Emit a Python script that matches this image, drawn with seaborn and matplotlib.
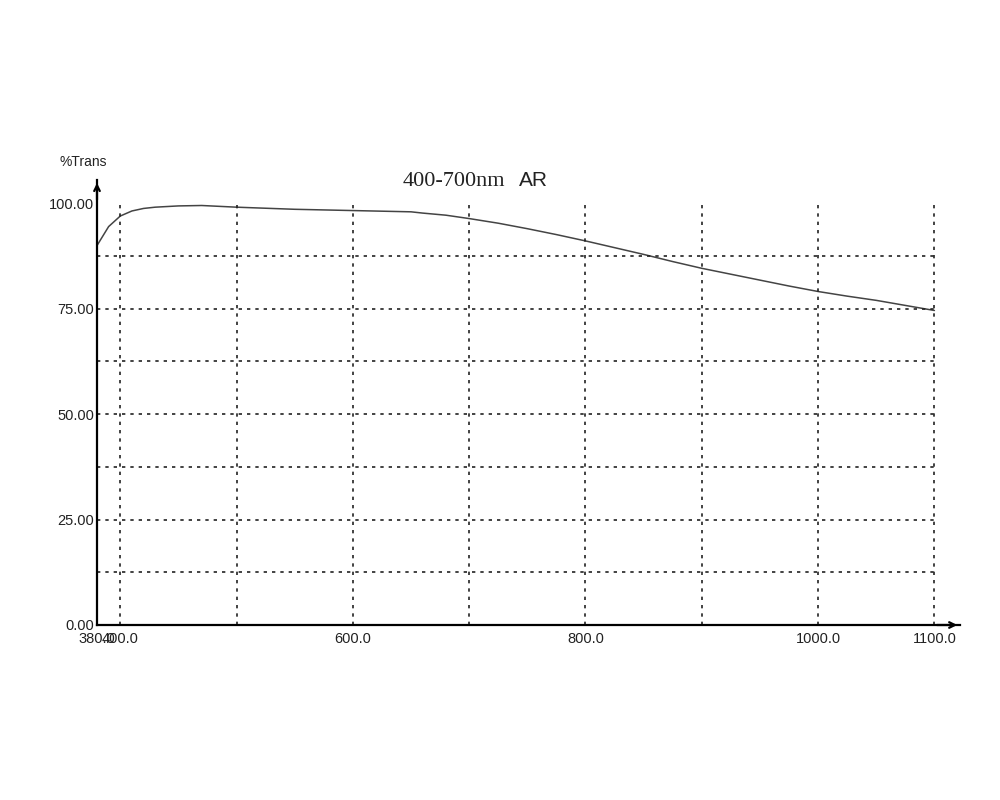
import numpy as np
import pandas as pd
import matplotlib
matplotlib.use('Agg')
import matplotlib.pyplot as plt
import seaborn as sns

# transmission curve
wavelength = [380, 390, 400, 410, 420, 430, 450, 470, 500, 550, 600, 650, 660,
              680, 700, 725, 750, 775, 800, 825, 850, 875, 900, 925, 950, 975,
              1000, 1025, 1050, 1075, 1100]
trans = [90.0, 94.5, 97.0, 98.2, 98.8, 99.1, 99.4, 99.5, 99.1, 98.6, 98.3, 98.0, 97.7,
         97.2, 96.4, 95.3, 94.0, 92.6, 91.1, 89.5, 87.9, 86.2, 84.6, 83.2, 81.8, 80.4,
         79.1, 78.0, 77.0, 75.8, 74.6]

x_grid = [400, 500, 600, 700, 800, 900, 1000, 1100]
y_grid = [12.5, 25, 37.5, 50, 62.5, 75, 87.5]
x_ticks = [380, 400, 600, 800, 1000, 1100]
x_ticklabels = ['380.0', '400.0', '600.0', '800.0', '1000.0', '1100.0']
y_ticks = [0, 25, 50, 75, 100]
y_ticklabels = ['0.00', '25.00', '50.00', '75.00', '100.00']

sns.set_style('white')
plt.rcParams['font.family'] = ['Liberation Sans', 'DejaVu Sans']

fig = plt.figure(figsize=(10, 8), dpi=100)
ax = fig.add_axes([0.097, 0.21875, 0.863, 0.556])

df = pd.DataFrame({'wl': wavelength, 'T': trans})
sns.lineplot(data=df, x='wl', y='T', ax=ax, color='#444444', lw=1.1)

ax.vlines(x_grid, 0, 100, colors='#222222', linestyles=(0, (2, 3)), lw=1.2)
ax.hlines(y_grid, 380, 1100, colors='#222222', linestyles=(0, (2, 3)), lw=1.2)

ax.set_xlim(380, 1122)
ax.set_ylim(0, 105.5)
ax.set_xticks(x_ticks)
ax.set_xticklabels(x_ticklabels)
ax.set_yticks(y_ticks)
ax.set_yticklabels(y_ticklabels)
ax.tick_params(axis='both', length=0, labelsize=10.5, colors='#222222')
ax.tick_params(axis='x', pad=5)
ax.tick_params(axis='y', pad=2)
ax.set_xlabel('')
ax.set_ylabel('')

for s in ['top', 'right']:
    ax.spines[s].set_visible(False)
for s in ['left', 'bottom']:
    ax.spines[s].set_color('black')
    ax.spines[s].set_linewidth(1.6)

# arrow heads on the axes
ax.annotate('', xy=(1.0, 0), xycoords='axes fraction', xytext=(0.97, 0),
            arrowprops=dict(arrowstyle='->', color='black', lw=1.6))
ax.annotate('', xy=(0, 1.0), xycoords='axes fraction', xytext=(0, 0.95),
            arrowprops=dict(arrowstyle='->', color='black', lw=1.6))

fig.text(0.06, 0.793, '%Trans', fontsize=10, color='#222222')
fig.text(0.403, 0.768, '400-700nm', fontsize=16, family=['Liberation Serif', 'DejaVu Serif'],
         color='#222222')
fig.text(0.519, 0.768, 'AR', fontsize=15, color='#222222')

fig.savefig('out.png', dpi=100)
